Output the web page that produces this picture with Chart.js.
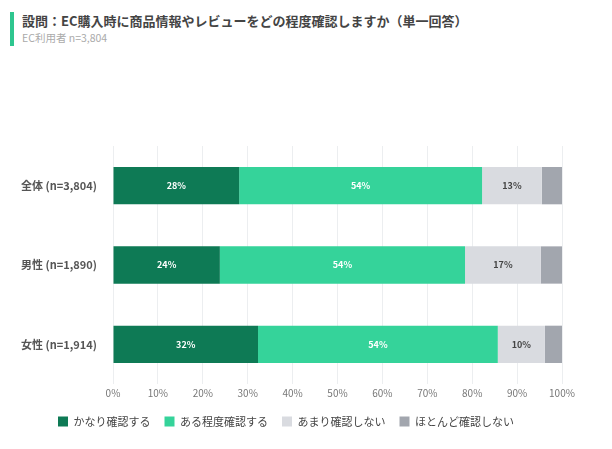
<!DOCTYPE html>
<html><head><meta charset="utf-8">
<script src="https://cdn.jsdelivr.net/npm/chart.js@4/dist/chart.umd.min.js"></script>
<style>
body{margin:0;background:#fff;font-family:"Noto Sans CJK JP","Noto Sans",sans-serif;}
#wrap{position:relative;width:612px;height:449px;}
#head{position:absolute;left:10px;top:12px;border-left:4px solid #2ec68f;padding-left:8px;}
#t1{font-size:13px;font-weight:bold;color:#444;line-height:18px;}
#t2{font-size:10.5px;color:#aaa;line-height:16px;}
canvas{position:absolute;left:0;top:0;}
</style></head><body>
<div id="wrap">
<div id="head"><div id="t1">設問：EC購入時に商品情報やレビューをどの程度確認しますか（単一回答）</div><div id="t2">EC利用者 n=3,804</div></div>
<canvas id="c" width="612" height="449"></canvas>
</div>
<script>
const categories = ["全体 (n=3,804)", "男性 (n=1,890)", "女性 (n=1,914)"];
const seriesNames = ["かなり確認する", "ある程度確認する", "あまり確認しない", "ほとんど確認しない"];
const kanari = [28.1, 23.8, 32.3];
const aruteido = [54.1, 54.6, 53.4];
const amari = [13.3, 16.9, 10.5];
const hotondo = [4.5, 4.7, 3.8];
const shownLabels = [["28%","24%","32%"],["54%","54%","54%"],["13%","17%","10%"],["","",""]];
const colors = ["#0e7a55", "#35d39a", "#d9dbe0", "#a2a6ae"];

const vals = [kanari, aruteido, amari, hotondo];
const FONT = '"Noto Sans CJK JP","Noto Sans",sans-serif';

const labelPlugin = {
  id: "segLabels",
  afterDatasetsDraw(chart){
    const ctx = chart.ctx;
    ctx.save();
    ctx.font = "bold 9px " + FONT;
    ctx.textAlign = "center"; ctx.textBaseline = "middle";
    chart.data.datasets.forEach((ds, di) => {
      chart.getDatasetMeta(di).data.forEach((bar, i) => {
        const txt = shownLabels[di][i];
        if (!txt) return;
        ctx.fillStyle = di < 2 ? "#fff" : "#444";
        ctx.fillText(txt, (bar.x + bar.base) / 2, bar.y);
      });
    });
    ctx.restore();
  }
};

new Chart(document.getElementById("c"), {
  type: "bar",
  data: {
    labels: categories,
    datasets: seriesNames.map((n, i) => ({
      label: n, data: vals[i], backgroundColor: colors[i],
      barPercentage: 0.47, categoryPercentage: 1
    }))
  },
  options: {
    indexAxis: "y", responsive: false, animation: false,
    layout: { padding: { top: 146, left: 10, right: 50, bottom: 12 } },
    scales: {
      x: { stacked: true, min: 0, max: 100,
        ticks: { stepSize: 10, callback: v => v + "%", color: "#777", font: { size: 10, family: FONT } },
        grid: { color: "#eceef0", drawTicks: false }, border: { display: false } },
      y: { stacked: true,
        ticks: { color: "#555", font: { size: 11, weight: "bold", family: FONT }, padding: 8 },
        grid: { display: false }, border: { display: false },
        afterFit(s){ s.width = 103; } }
    },
    plugins: {
      legend: { position: "bottom", align: "center",
        labels: { boxWidth: 10, boxHeight: 10, padding: 14, color: "#444", font: { size: 11, family: FONT } } },
      tooltip: { enabled: false }
    }
  },
  plugins: [labelPlugin]
});
</script>
</body></html>
